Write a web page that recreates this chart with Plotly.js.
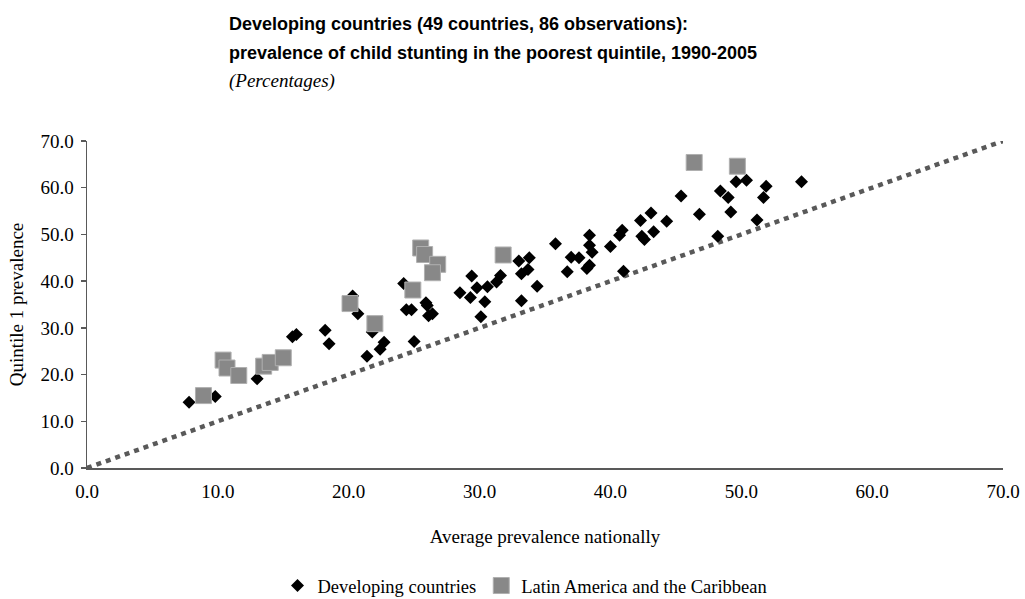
<!DOCTYPE html>
<html>
<head>
<meta charset="utf-8">
<script src="https://cdn.plot.ly/plotly-3.0.1.min.js"></script>
<style>
  html, body { margin: 0; padding: 0; background: #ffffff; }
  #chart { width: 1025px; height: 599px; }
</style>
</head>
<body>
<div id="chart"></div>
<script>
// Developing countries: average national prevalence (x) vs quintile 1 prevalence (y)
var devX = [7.8, 9.8, 13.0, 15.7, 16.0, 18.2, 18.5, 20.3, 20.7, 21.8,
            21.4, 22.4, 22.7, 24.2, 24.4, 24.8, 25.0, 25.9, 26.0, 26.1,
            26.4, 28.5, 29.4, 29.3, 29.8, 30.4, 30.1, 30.6, 31.3, 31.6,
            33.0, 33.8, 33.2, 33.7, 33.2, 34.4, 35.8, 37.0, 37.6, 36.7,
            38.4, 38.4, 38.6, 38.4, 38.2, 40.0, 40.7, 40.9, 41.0, 42.3,
            43.1, 42.4, 42.6, 43.3, 44.3, 45.4, 46.8, 48.2, 48.4, 49.0,
            49.2, 49.6, 50.4, 51.2, 51.9, 51.7, 54.6];
var devY = [14.1, 15.3, 19.1, 28.1, 28.6, 29.5, 26.6, 36.8, 33.0, 29.1,
            23.9, 25.4, 26.9, 39.5, 33.9, 33.9, 27.1, 35.4, 34.8, 32.6,
            33.0, 37.5, 41.1, 36.5, 38.6, 35.6, 32.4, 38.8, 39.8, 41.2,
            44.3, 45.0, 41.6, 42.5, 35.8, 38.9, 48.0, 45.1, 45.0, 42.0,
            49.8, 47.7, 46.2, 43.4, 42.7, 47.4, 49.8, 50.9, 42.1, 53.0,
            54.6, 49.6, 48.9, 50.6, 52.8, 58.2, 54.3, 49.6, 59.3, 57.9,
            54.8, 61.3, 61.6, 53.1, 60.3, 57.9, 61.3];
// Latin America and the Caribbean
var lacX = [8.9, 10.4, 10.7, 11.6, 13.5, 14.0, 15.0, 20.1, 22.0, 24.9,
            25.5, 25.8, 26.8, 26.4, 31.8, 46.4, 49.7];
var lacY = [15.5, 23.1, 21.4, 19.8, 21.8, 22.6, 23.6, 35.2, 30.9, 38.1,
            47.1, 45.7, 43.6, 41.8, 45.6, 65.4, 64.6];
// 45-degree reference line (quintile 1 = national average)
var refX = [0, 70];
var refY = [0, 70];
var axisTicks = [0, 10, 20, 30, 40, 50, 60, 70];

var serif = '"Liberation Serif", "Times New Roman", serif';
var sans = '"Liberation Sans", Arial, sans-serif';

var traces = [
  {
    x: refX, y: refY, type: 'scatter', mode: 'lines',
    line: { color: '#595959', width: 4.5, dash: '5px,5px' },
    showlegend: false, hoverinfo: 'skip', cliponaxis: false
  },
  {
    x: devX, y: devY, type: 'scatter', mode: 'markers',
    name: 'Developing countries',
    marker: { symbol: 'diamond', size: 10, color: '#000000' },
    cliponaxis: false
  },
  {
    x: lacX, y: lacY, type: 'scatter', mode: 'markers',
    name: 'Latin America and the Caribbean',
    marker: { symbol: 'square', size: 16, color: '#888888',
              line: { color: '#b0b0b0', width: 1 } },
    cliponaxis: false
  }
];

var plotH = 599 - 141 - 131;
var titleX = (227 - 86.5) / 917;

var layout = {
  width: 1025, height: 599,
  paper_bgcolor: '#ffffff', plot_bgcolor: '#ffffff',
  margin: { l: 86.5, r: 21.5, t: 141, b: 131, autoexpand: false },
  showlegend: true,
  legend: {
    orientation: 'h', x: 525 / 1025, xanchor: 'center', xref: 'container',
    y: -(586 - 468) / plotH, yanchor: 'middle',
    font: { family: serif, size: 18.5, color: '#000000' },
    itemwidth: 30, traceorder: 'normal'
  },
  xaxis: {
    range: [0, 70], tickvals: axisTicks, tickformat: '.1f',
    showgrid: false, zeroline: false,
    showline: true, linecolor: '#595959', linewidth: 1.5,
    ticks: '', ticklabelstandoff: 6,
    tickfont: { family: serif, size: 19, color: '#000000' },
    title: { text: 'Average prevalence nationally',
             font: { family: serif, size: 19, color: '#000000' }, standoff: 28 },
    automargin: false, fixedrange: true
  },
  yaxis: {
    range: [0, 70], tickvals: axisTicks, tickformat: '.1f',
    showgrid: false, zeroline: false,
    showline: true, linecolor: '#595959', linewidth: 1.5,
    ticks: 'outside', ticklen: 5, tickcolor: '#595959', tickwidth: 1.5,
    ticklabelstandoff: 3,
    tickfont: { family: serif, size: 19, color: '#000000' },
    title: { text: 'Quintile 1 prevalence',
             font: { family: serif, size: 19, color: '#000000' }, standoff: 12 },
    automargin: false, fixedrange: true
  },
  annotations: [
    {
      text: '<b>Developing countries (49 countries, 86 observations):</b>',
      xref: 'paper', yref: 'paper', x: titleX, y: 1 + (141 - 24) / plotH,
      xanchor: 'left', yanchor: 'middle', showarrow: false,
      font: { family: sans, size: 18, color: '#000000' }
    },
    {
      text: '<b>prevalence of child stunting in the poorest quintile, 1990-2005</b>',
      xref: 'paper', yref: 'paper', x: titleX, y: 1 + (141 - 53) / plotH,
      xanchor: 'left', yanchor: 'middle', showarrow: false,
      font: { family: sans, size: 18, color: '#000000' }
    },
    {
      text: '<i>(Percentages)</i>',
      xref: 'paper', yref: 'paper', x: titleX, y: 1 + (141 - 81) / plotH,
      xanchor: 'left', yanchor: 'middle', showarrow: false,
      font: { family: serif, size: 19, color: '#000000' }
    }
  ]
};

Plotly.newPlot('chart', traces, layout, { displayModeBar: false, staticPlot: true });
</script>
</body>
</html>
